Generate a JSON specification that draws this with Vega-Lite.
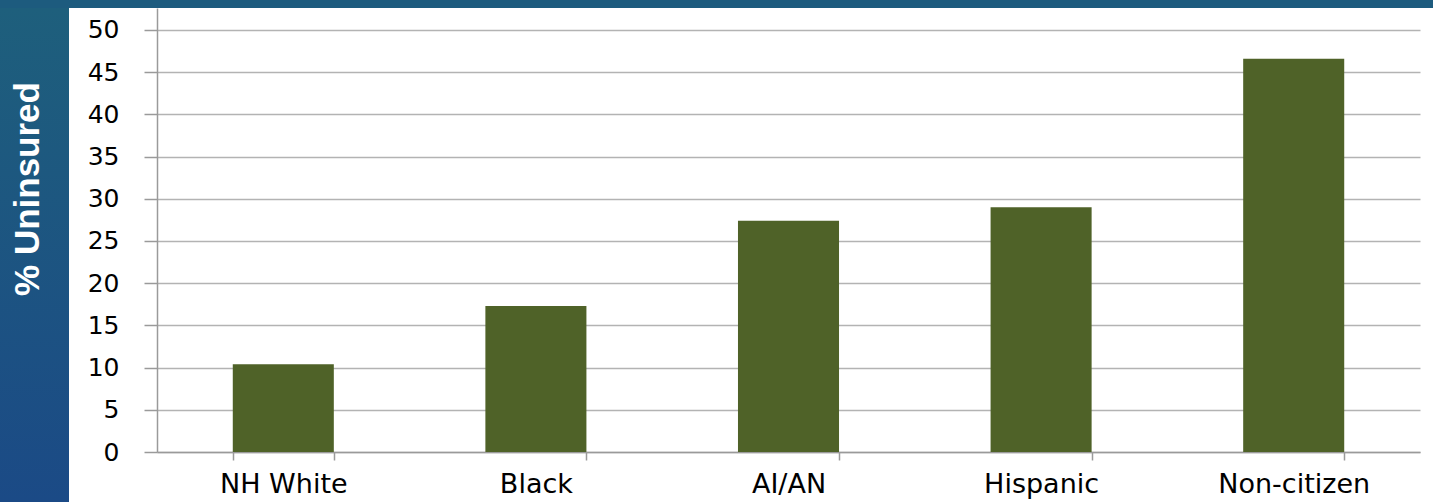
{
  "$schema": "https://vega.github.io/schema/vega-lite/v6.json",
  "background": "white",
  "padding": 0,
  "spacing": 0,
  "config": {"view": {"stroke": null}, "concat": {"spacing": 0}},
  "vconcat": [
    {
      "width": 1433,
      "height": 8,
      "view": {"fill": "#1d5b7e", "stroke": null},
      "data": {"values": [{"t": ""}]},
      "mark": {"type": "text", "fontSize": 1},
      "encoding": {"text": {"field": "t"}}
    },
    {
      "spacing": 0,
      "hconcat": [
        {
          "width": 69,
          "height": 494,
          "view": {
            "stroke": null,
            "fill": {
              "gradient": "linear",
              "x1": 0, "y1": 0, "x2": 0, "y2": 1,
              "stops": [
                {"offset": 0, "color": "#1e5f7c"},
                {"offset": 1, "color": "#1b4a86"}
              ]
            }
          },
          "data": {"values": [{"label": "% Uninsured"}]},
          "mark": {
            "type": "text",
            "angle": 270,
            "color": "white",
            "font": "Liberation Sans",
            "fontWeight": "bold",
            "fontSize": 35,
            "align": "center",
            "baseline": "middle",
            "dx": 66,
            "dy": -7
          },
          "encoding": {"text": {"field": "label"}}
        },
        {
          "width": 1263,
          "height": 444,
          "data": {
            "values": [
              {"group": "NH White", "pct": 10.4},
              {"group": "Black", "pct": 17.3},
              {"group": "AI/AN", "pct": 27.4},
              {"group": "Hispanic", "pct": 29.0},
              {"group": "Non-citizen", "pct": 46.6}
            ]
          },
          "mark": {"type": "bar", "color": "#4f6228"},
          "encoding": {
            "x": {
              "field": "group",
              "type": "nominal",
              "sort": null,
              "scale": {"paddingInner": 0.6, "paddingOuter": 0.3},
              "axis": {
                "title": null,
                "labelAngle": 0,
                "tickBand": "extent",
                "ticks": true,
                "tickSize": 8,
                "tickColor": "#9a9a9a",
                "tickWidth": 1.5,
                "domain": true,
                "domainColor": "#9a9a9a",
                "domainWidth": 1.5,
                "labelFont": "DejaVu Sans",
                "labelFontSize": 27,
                "labelColor": "#000000",
                "labelPadding": 11
              }
            },
            "y": {
              "field": "pct",
              "type": "quantitative",
              "scale": {"domain": [0, 52.6], "nice": false},
              "axis": {
                "title": null,
                "values": [0, 5, 10, 15, 20, 25, 30, 35, 40, 45, 50],
                "grid": true,
                "gridColor": "#b3b3b3",
                "gridWidth": 1.5,
                "tickSize": 13,
                "tickColor": "#9a9a9a",
                "tickWidth": 1.5,
                "domain": true,
                "domainColor": "#9a9a9a",
                "domainWidth": 1.5,
                "labelFont": "DejaVu Sans",
                "labelFontSize": 25,
                "labelColor": "#000000",
                "labelPadding": 25,
                "minExtent": 88,
                "maxExtent": 88
              }
            }
          }
        }
      ]
    }
  ]
}
